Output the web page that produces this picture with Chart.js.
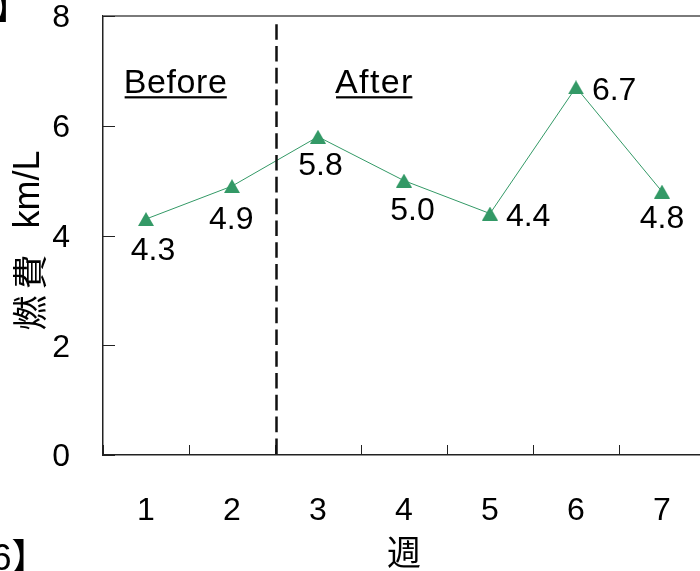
<!DOCTYPE html>
<html>
<head>
<meta charset="utf-8">
<script src="https://cdn.jsdelivr.net/npm/chart.js@4.4.1/dist/chart.umd.min.js"></script>
<style>
  html, body { margin: 0; padding: 0; background: #fff; overflow: hidden; width: 700px; height: 571px; }
  #wrap { position: relative; width: 710px; height: 571px; }
  #c { position: absolute; left: 0; top: 0; }
  #edge { position: absolute; left: 0; top: 0; pointer-events: none; }
  #edge text { font-family: "Liberation Sans", "Noto Sans CJK JP", sans-serif; fill: #000; }
</style>
</head>
<body>
<div id="wrap">
  <canvas id="c" width="710" height="571"></canvas>
  <svg id="edge" width="700" height="571">
    <text x="-5" y="19" font-size="32" font-weight="bold">】</text>
    <text x="-8.5" y="570" font-size="36">6】</text>
  </svg>
</div>
<script>
// weekly fuel economy
const weeks = ['1', '2', '3', '4', '5', '6', '7'];
const fuelEconomy = [4.3, 4.9, 5.8, 5.0, 4.4, 6.7, 4.8];
const yTickValues = [0, 2, 4, 6, 8];
const phaseNames = ['Before', 'After'];
const yTitleParts = ['燃費', 'km/L'];
const xTitleText = '週';

const LATIN = '"Liberation Sans", Arial, sans-serif';
const CJK = '"Noto Sans CJK JP", "Noto Sans CJK SC", sans-serif';
const GREEN = '#339966';
const TEXT_SIZE = 32;

// value label placement: below the marker or to its right, with small nudges
const labelLayout = {
  place: ['below', 'below', 'below', 'below', 'right', 'right', 'below'],
  dx: [7, -0.8, 2.5, 8.5, 16.7, 16.7, 0],
  dy: [17.7, 19.9, 15, 16.1, 0.7, 1.7, 13.4]
};

function triangleMarker(w, h, color) {
  const c = document.createElement('canvas');
  c.width = w; c.height = h;
  const g = c.getContext('2d');
  g.fillStyle = color;
  g.beginPath();
  g.moveTo(w / 2, 0);
  g.lineTo(w, h);
  g.lineTo(0, h);
  g.closePath();
  g.fill();
  return c;
}

// draws text one glyph at a time with extra tracking; returns the advance
function drawTracked(ctx, text, x, y, tracking) {
  let cx = x;
  for (let i = 0; i < text.length; i++) {
    const ch = text[i];
    ctx.fillText(ch, cx, y);
    cx += ctx.measureText(ch).width + (i < text.length - 1 ? tracking : 0);
  }
  return cx - x;
}

const frame = {
  id: 'frame',
  beforeDatasetsDraw(chart) {
    const { ctx, chartArea: a, scales: { x, y } } = chart;
    ctx.save();
    ctx.strokeStyle = '#7a7a7a';
    ctx.lineWidth = 2;
    ctx.beginPath();
    ctx.moveTo(a.left, a.top);
    ctx.lineTo(a.right, a.top);
    ctx.lineTo(a.right, a.bottom);
    ctx.stroke();

    ctx.strokeStyle = '#222';
    ctx.lineWidth = 1;
    ctx.beginPath();
    yTickValues.forEach(v => {
      const py = Math.round(y.getPixelForValue(v)) + 0.5;
      ctx.moveTo(a.left, py);
      ctx.lineTo(a.left + 12, py);
    });
    for (let i = 0; i <= weeks.length; i++) {
      const px = Math.round(x.getPixelForValue(i - 0.5)) + 0.5;
      ctx.moveTo(px, a.bottom);
      ctx.lineTo(px, a.bottom - 10);
    }
    ctx.stroke();
    ctx.restore();
  }
};

const phases = {
  id: 'phases',
  afterDatasetsDraw(chart) {
    const { ctx, chartArea: a, scales: { x, y } } = chart;
    ctx.save();
    // dashed divider between week 2 and week 3
    const px = x.getPixelForValue(1.5) + 1.5;
    ctx.strokeStyle = '#111';
    ctx.lineWidth = 2.5;
    ctx.setLineDash([15.6, 6.2]);
    ctx.lineDashOffset = 15.6;
    ctx.beginPath();
    ctx.moveTo(px, a.top + 2);
    ctx.lineTo(px, a.bottom);
    ctx.stroke();
    ctx.setLineDash([]);

    // underlined phase captions
    ctx.font = '34px ' + LATIN;
    ctx.fillStyle = '#000';
    ctx.textAlign = 'left';
    ctx.textBaseline = 'alphabetic';
    const base = y.getPixelForValue(6.6);
    const starts = [-0.26, 2.198];
    const tracking = [0.6, 1.4];
    phaseNames.forEach((name, i) => {
      const sx = x.getPixelForValue(starts[i]);
      const w = drawTracked(ctx, name, sx, base, tracking[i]);
      ctx.fillRect(sx + 1, base + 3.4, w - 1, 2.2);
    });
    ctx.restore();
  }
};

const valueLabels = {
  id: 'valueLabels',
  afterDatasetsDraw(chart) {
    const { ctx } = chart;
    const pts = chart.getDatasetMeta(0).data;
    ctx.save();
    ctx.font = TEXT_SIZE + 'px ' + LATIN;
    ctx.fillStyle = '#000';
    ctx.textBaseline = 'alphabetic';
    const cap = 0.716 * TEXT_SIZE;
    fuelEconomy.forEach((v, i) => {
      const p = pts[i];
      const txt = v.toFixed(1);
      if (labelLayout.place[i] === 'right') {
        ctx.textAlign = 'left';
        ctx.fillText(txt, p.x + labelLayout.dx[i] - 0.8, p.y + labelLayout.dy[i] + cap / 2);
      } else {
        ctx.textAlign = 'center';
        ctx.fillText(txt, p.x + labelLayout.dx[i], p.y + labelLayout.dy[i] + cap);
      }
    });
    ctx.restore();
  }
};

const yTitle = {
  id: 'yTitle',
  afterDraw(chart) {
    const { ctx, chartArea: a } = chart;
    ctx.save();
    ctx.translate(29, (a.top + a.bottom) / 2 + 5);
    ctx.rotate(-Math.PI / 2);
    ctx.fillStyle = '#000';
    ctx.textBaseline = 'middle';
    ctx.textAlign = 'left';
    ctx.font = '35px ' + CJK;
    const cjkTrack = 6;
    let w1 = 0;
    for (let i = 0; i < yTitleParts[0].length; i++) {
      w1 += ctx.measureText(yTitleParts[0][i]).width + (i ? cjkTrack : 0);
    }
    ctx.font = '36px ' + LATIN;
    const w2 = ctx.measureText(yTitleParts[1]).width;
    const gap = 26;
    const x0 = -(w1 + gap + w2) / 2;
    ctx.font = '35px ' + CJK;
    drawTracked(ctx, yTitleParts[0], x0, 1, cjkTrack);
    ctx.font = '36px ' + LATIN;
    ctx.fillText(yTitleParts[1], x0 + w1 + gap, 0);
    ctx.restore();
  }
};

new Chart(document.getElementById('c'), {
  type: 'line',
  data: {
    labels: weeks,
    datasets: [{
      data: fuelEconomy,
      borderColor: GREEN,
      borderWidth: 1,
      backgroundColor: GREEN,
      pointStyle: triangleMarker(16, 14, GREEN),
      tension: 0,
      fill: false
    }]
  },
  options: {
    responsive: false,
    animation: false,
    devicePixelRatio: 1,
    events: [],
    layout: { padding: { left: 0, top: 16, right: 5, bottom: 0 } },
    plugins: { legend: { display: false }, tooltip: { enabled: false } },
    scales: {
      x: {
        type: 'category',
        offset: true,
        grid: { display: false },
        border: { display: true, color: '#222', width: 1.5 },
        ticks: {
          color: '#000',
          font: { family: LATIN, size: TEXT_SIZE, lineHeight: 1.2 },
          padding: 29,
          maxRotation: 0,
          autoSkip: false
        },
        title: {
          display: true,
          text: xTitleText,
          color: '#000',
          font: { family: CJK, size: 34, lineHeight: 1.1 },
          padding: 0
        },
        afterFit(s) { s.height = 116; s.paddingLeft = 0; s.paddingRight = 0; }
      },
      y: {
        type: 'linear',
        min: 0,
        max: 8,
        grid: { display: false },
        border: { display: true, color: '#222', width: 1.5 },
        ticks: {
          color: '#000',
          font: { family: LATIN, size: TEXT_SIZE, lineHeight: 1 },
          padding: 25,
          labelOffset: 2.5
        },
        afterBuildTicks(s) { s.ticks = yTickValues.map(v => ({ value: v })); },
        afterFit(s) { s.width = 103; s.paddingTop = 0; s.paddingBottom = 0; }
      }
    }
  },
  plugins: [frame, phases, valueLabels, yTitle]
});
</script>
</body>
</html>
